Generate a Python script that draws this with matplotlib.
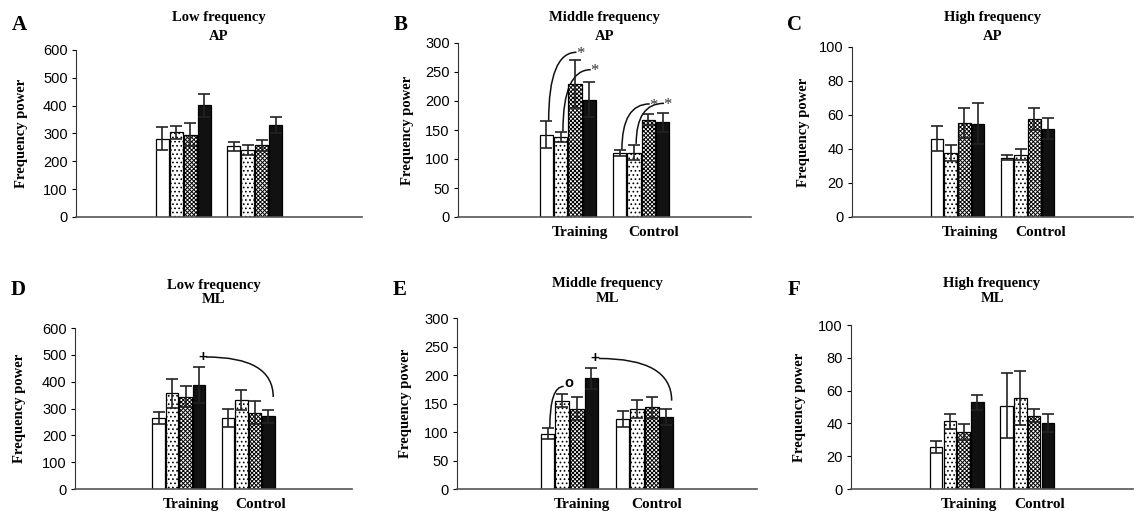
import numpy as np
import matplotlib
matplotlib.use("Agg")
import matplotlib.pyplot as plt
from matplotlib.path import Path
from matplotlib.patches import PathPatch

plt.rcParams['font.family'] = ['Liberation Sans', 'DejaVu Sans']
plt.rcParams['hatch.linewidth'] = 0.7
SERIF = ['Liberation Serif', 'DejaVu Serif']

groups = ["Training", "Control"]

# panel data: mean and error of the 4 conditions, per group
a_train, a_train_err = [282, 304, 296, 402], [42, 24, 41, 41]
a_ctrl, a_ctrl_err = [254, 242, 257, 330], [16, 18, 21, 30]

b_train, b_train_err = [142, 138, 229, 202], [23, 9, 41, 30]
b_ctrl, b_ctrl_err = [110, 111, 168, 163], [5, 13, 9, 16]

c_train, c_train_err = [46, 37.6, 55.3, 54.9], [7.3, 4.6, 9, 12]
c_ctrl, c_ctrl_err = [34.9, 36.7, 57.8, 52], [1.4, 3.1, 6.5, 6.2]

d_train, d_train_err = [265, 356, 343, 387], [21, 53, 39, 68]
d_ctrl, d_ctrl_err = [265, 332, 284, 271], [33, 37, 43, 25]

e_train, e_train_err = [97, 155, 141, 194], [10, 11, 20, 19]
e_ctrl, e_ctrl_err = [123, 140, 143, 127], [14, 16, 18, 14]

f_train, f_train_err = [25.4, 41.2, 34.7, 52.9], [3.6, 4.6, 4.9, 4.5]
f_ctrl, f_ctrl_err = [50.9, 55.4, 44.8, 40.2], [20, 16.6, 3.9, 5.4]

# bar styles for the 4 conditions
face = ["white", "white", "white", "#111111"]
hatches = [None, "....", "xxxxxxxx", None]

W, H = 1135, 511
fig = plt.figure(figsize=(11.35, 5.11), dpi=100)

offsets = (np.arange(4) - 1.5) * 0.195
bw = 0.18


def bar_x(g, i):
    return g + 1 + offsets[i]


def curve(ax, p0, p1, mode):
    # quadratic bezier, vertical start ("up") or horizontal start ("down")
    c = (p0[0], p1[1]) if mode == "up" else (p1[0], p0[1])
    path = Path([p0, c, p1], [Path.MOVETO, Path.CURVE3, Path.CURVE3])
    ax.add_patch(PathPatch(path, fill=False, lw=1.1, ec="#111111", clip_on=False))


def panel(box, letter, title, ymax, step, train, train_err, ctrl, ctrl_err,
          xlabels=True, marks=(), title_y=(18, 36), letter_y=25, lab_x=22):
    l, t, r, b = box
    ax = fig.add_axes([l / W, 1 - b / H, (r - l) / W, (b - t) / H])
    for g, (m, e) in enumerate([(train, train_err), (ctrl, ctrl_err)]):
        xs = [bar_x(g, i) for i in range(4)]
        bars = ax.bar(xs, m, bw, color=face, edgecolor="black", linewidth=0.9, zorder=2)
        for p, h in zip(bars, hatches):
            if h:
                p.set_hatch(h)
        ax.errorbar(xs, m, yerr=e, fmt="none", ecolor="#222222", elinewidth=1.2,
                    capsize=4, capthick=1.2, zorder=3)
    ax.set_xlim(-0.5, 3.5)
    ax.set_ylim(0, ymax)
    ax.set_yticks(np.arange(0, ymax + 1, step))
    ax.set_xticks([])
    ax.tick_params(axis="y", length=3, width=0.8, labelsize=10.5, pad=3)
    for s in ("top", "right"):
        ax.spines[s].set_visible(False)
    ax.spines["left"].set_color("#333333")
    ax.spines["bottom"].set_color("#555555")
    ax.spines["bottom"].set_linewidth(1.2)
    if xlabels:
        for g, name in enumerate(groups):
            ax.annotate(name, xy=(g + 1, 0), xycoords=("data", "axes fraction"),
                        xytext=(9, -11.5), textcoords="offset points", ha="center",
                        va="center", fontsize=11, fontweight="bold", family=SERIF)
    for mode, (g0, i0), y0, (g1, i1), y1, sym in marks:
        if mode == "up":
            p0 = (bar_x(g0, i0) + 0.03, y0)
            p1 = (bar_x(g1, i1) + 0.02, y1)
            curve(ax, p0, p1, mode)
            if sym == "o":
                ax.text(p1[0] + 0.07, y1 + ymax * 0.02, sym, fontsize=10.5,
                        fontweight="bold", ha="center", va="center")
            else:
                ax.text(p1[0] + 0.05, y1 - ymax * 0.01, sym, fontsize=12,
                        ha="center", va="center", color="#333333", family=SERIF)
        else:
            xs0 = bar_x(g0, i0)
            p0 = (xs0 + 0.1, y0)
            p1 = (bar_x(g1, i1) + 0.07, y1)
            curve(ax, p0, p1, mode)
            ax.text(xs0 + 0.05, y0, sym, fontsize=11, fontweight="bold",
                    ha="center", va="center")

    cx = (l + r) / 2
    fig.text(cx / W, 1 - title_y[0] / H, title[0], ha="center", va="center",
             fontsize=10.5, fontweight="bold", family=SERIF)
    fig.text(cx / W, 1 - title_y[1] / H, title[1], ha="center", va="center",
             fontsize=10.5, fontweight="bold", family=SERIF)
    fig.text((l - 57) / W, 1 - letter_y / H, letter, ha="center", va="center",
             fontsize=15, fontweight="bold", family=SERIF)
    fig.text(lab_x / W, 1 - (t + b) / 2 / H, "Frequency power", rotation=90,
             ha="center", va="center", fontsize=10.5, fontweight="bold", family=SERIF)
    return ax


panel((76, 50, 362, 217), "A", ("Low frequency", "AP"), 600, 100,
      a_train, a_train_err, a_ctrl, a_ctrl_err, xlabels=False, lab_x=22)

panel((458, 43, 751, 217), "B", ("Middle frequency", "AP"), 300, 50,
      b_train, b_train_err, b_ctrl, b_ctrl_err, lab_x=407,
      marks=[("up", (0, 0), 166, (0, 2), 284, "*"),
             ("up", (0, 1), 148, (0, 3), 254, "*"),
             ("up", (1, 0), 116, (1, 2), 195, "*"),
             ("up", (1, 1), 126, (1, 3), 196, "*")])

panel((852, 47, 1133, 217), "C", ("High frequency", "AP"), 100, 20,
      c_train, c_train_err, c_ctrl, c_ctrl_err, lab_x=803)

panel((75, 328, 352, 489), "D", ("Low frequency", "ML"), 600, 100,
      d_train, d_train_err, d_ctrl, d_ctrl_err, lab_x=20,
      title_y=(285, 299), letter_y=290,
      marks=[("down", (0, 3), 492, (1, 3), 343, "+")])

panel((457, 318, 757, 489), "E", ("Middle frequency", "ML"), 300, 50,
      e_train, e_train_err, e_ctrl, e_ctrl_err, lab_x=405,
      title_y=(284, 298), letter_y=290,
      marks=[("up", (0, 0), 107, (0, 1), 180, "o"),
             ("down", (0, 3), 229, (1, 3), 155, "+")])

panel((851, 325, 1133, 489), "F", ("High frequency", "ML"), 100, 20,
      f_train, f_train_err, f_ctrl, f_ctrl_err, lab_x=800,
      title_y=(284, 298), letter_y=290)

fig.savefig("out.png", dpi=100)
